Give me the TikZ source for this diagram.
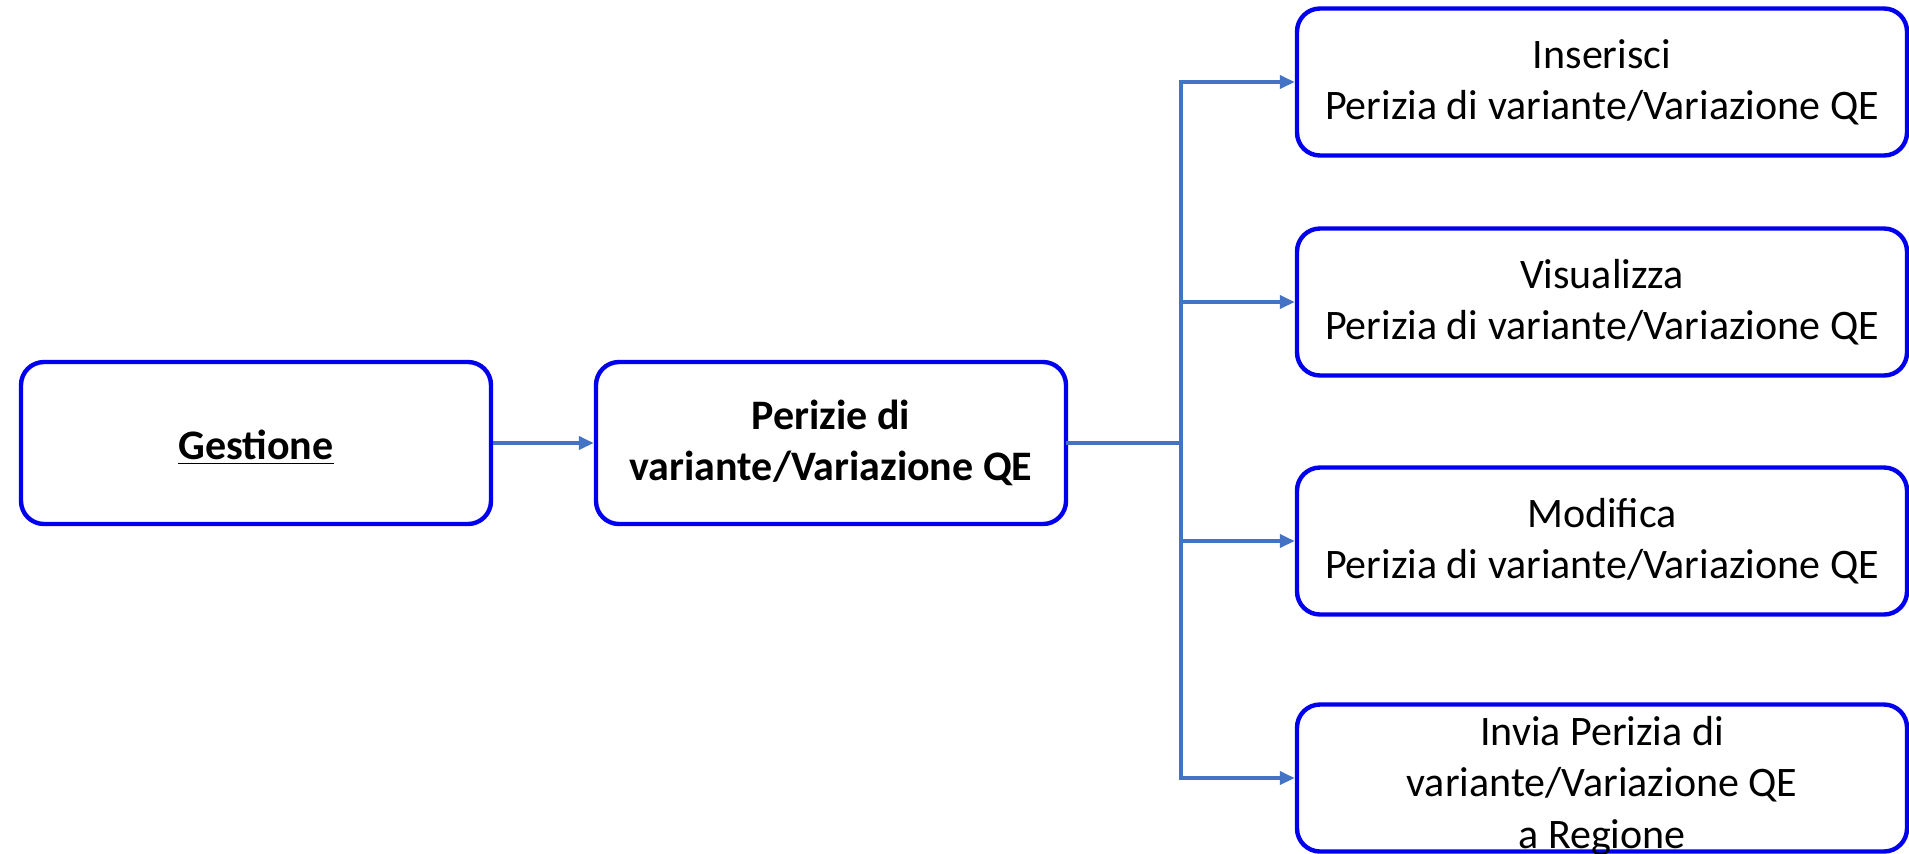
\documentclass[tikz,border=0pt]{standalone}
\usepackage{fontspec}
\setmainfont{Carlito}
\usepackage{tikz}
\usetikzlibrary{arrows.meta,
                positioning}

\definecolor{boxblue}{RGB}{0,0,238}
\definecolor{linkblue}{RGB}{68,114,196}

\tikzset{
  menubox/.style={draw=boxblue, line width=2.2pt, rounded corners=11.5pt,
                  align=center, inner sep=0pt,
                  font=\fontsize{21}{25.6}\selectfont,
                  execute at begin node={\rule{0pt}{19pt}}},
  leftbox/.style={menubox, minimum width=235pt, minimum height=81pt},
  optbox/.style={menubox, minimum width=305pt, minimum height=73.5pt},
  trunk/.style={draw=linkblue, line width=2pt, line cap=rect},
  link/.style={draw=linkblue, line width=2pt,
               -{Triangle[length=7.5pt,width=6.5pt]}}
}

\begin{document}
\begin{tikzpicture}[x=0.5pt,y=-0.5pt]
\useasboundingbox (0,0) rectangle (1909,853);

\node[leftbox] (gest) at (256,443) {\textbf{\underline{Gestione}}};
\node[leftbox] (perizie) at (831,443)
  {\textbf{Perizie di}\\\textbf{variante/Variazione QE}};

\node[optbox] (ins) at (1602,82) {Inserisci\\Perizia di variante/Variazione QE};
\node[optbox] (vis) at (1602,302) {Visualizza\\Perizia di variante/Variazione QE};
\node[optbox] (mod) at (1602,541) {Modifica\\Perizia di variante/Variazione QE};
\node[optbox] (inv) at (1602,778) {};
\node[align=center, font=\fontsize{21}{25.6}\selectfont] (invtxt) at (1602,786)
  {Invia Perizia di\\variante/Variazione QE\\a Regione};

\coordinate (split) at (1181,443);

\draw[link] (gest.east) -- (perizie.west);
\draw[trunk] (perizie.east) -- (split);
\draw[trunk] (split |- ins.west) -- (split |- inv.west);
\foreach \n in {ins,vis,mod,inv}
  \draw[link] (split |- \n.west) -- (\n.west);
\end{tikzpicture}
\end{document}
